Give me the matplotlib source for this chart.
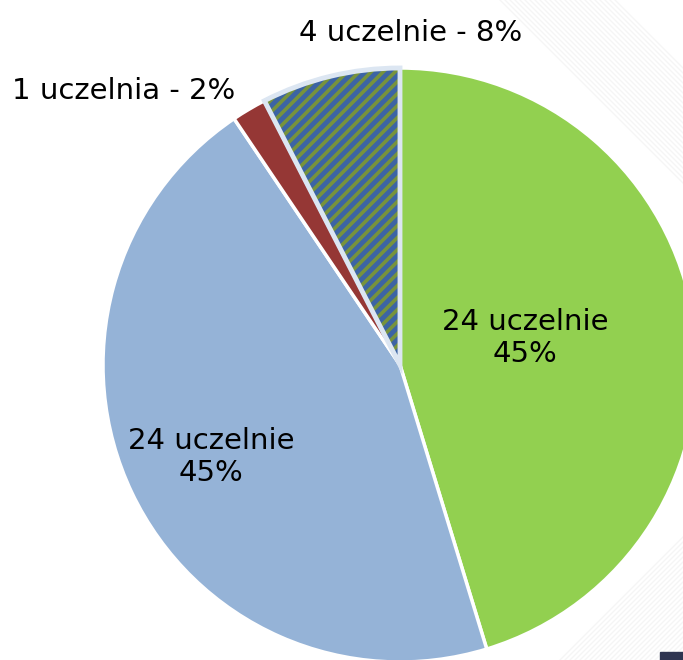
import numpy as np
import matplotlib
matplotlib.use("Agg")
import matplotlib.pyplot as plt
from matplotlib.patches import Wedge, Rectangle

# uczelnie w kategoriach (od góry, zgodnie z ruchem wskazówek zegara)
counts = [24, 24, 1, 4]
labels = ["24 uczelnie\n45%", "24 uczelnie\n45%", "1 uczelnia - 2%", "4 uczelnie - 8%"]
colors = ["#92D050", "#95B3D7", "#953735", "#77933C"]

W, H = 683, 660
fig = plt.figure(figsize=(W / 100, H / 100), dpi=100)
ax = fig.add_axes([0, 0, 1, 1])


def py(y):
    # piksele od góry -> współrzędne osi
    return H - y


# delikatne smugi tła po prawej stronie
for k in range(24):
    x0 = 500 + k * 5
    ax.plot([x0, x0 + 220], [py(0), py(220)], color="#F5F5F5", lw=1.0, zorder=0)
    x1 = 560 + k * 5
    ax.plot([x1, x1 + 160], [py(H), py(H - 160)], color="#F5F5F5", lw=1.0, zorder=0)

cx, cy, r = 400, py(365), 297
wedges, _ = ax.pie(counts, colors=colors, startangle=90, counterclock=False,
                   center=(cx, cy), radius=r, frame=True,
                   wedgeprops=dict(edgecolor="white", linewidth=2.5))
ax.set_xlim(0, W)
ax.set_ylim(0, H)
ax.set_aspect("equal")
ax.axis("off")

# ukośne paski na ostatnim wycinku
hw = wedges[3]
hw.set_linewidth(0)
for off in np.arange(-400, 400, 12):
    ln, = ax.plot([cx + off - 300, cx + off + 300], [cy - 300, cy + 300],
                  color="#3C64A4", lw=3.5, solid_capstyle="butt", zorder=hw.get_zorder() + 0.1)
    ln.set_clip_path(hw)
edge = Wedge((cx, cy), r, hw.theta1, hw.theta2, fill=False,
             edgecolor="#DCE6F2", linewidth=3.5, zorder=hw.get_zorder() + 0.2)
ax.add_patch(edge)

fs = 21
ax.text(525, py(338), labels[0], ha="center", va="center", fontsize=fs, linespacing=1.2)
ax.text(211, py(457), labels[1], ha="center", va="center", fontsize=fs, linespacing=1.2)
ax.text(124, py(91), labels[2], ha="center", va="center", fontsize=fs)
ax.text(411, py(33), labels[3], ha="center", va="center", fontsize=fs)

ax.add_patch(Rectangle((660, 0), 30, 8, color="#2E3450", zorder=5))

fig.savefig("out.png", dpi=100)
